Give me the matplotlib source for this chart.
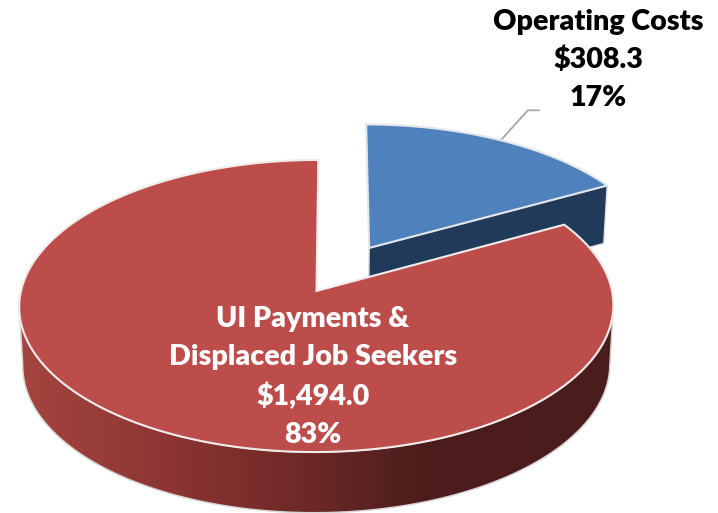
import numpy as np
import matplotlib
matplotlib.use('Agg')
import matplotlib.pyplot as plt
from matplotlib.colors import LinearSegmentedColormap
from matplotlib.patches import Polygon

plt.rcParams['font.family'] = ['Lato', 'DejaVu Sans']

# values, clockwise from 12 o'clock
names = ['Operating Costs', 'UI Payments &\nDisplaced Job Seekers']
amounts = [308.3, 1494.0]
percents = [17, 83]
explode = 0.357

W, H = 718, 513
fig = plt.figure(figsize=(W / 100, H / 100), dpi=100)
ax = fig.add_axes([0, 0, 1, 1])
ax.set_xlim(0, W)
ax.set_ylim(H, 0)
ax.axis('off')


# disc (u, v) -> picture, with some perspective (k) and a small tilt
def top_xy(u, v, k=0.1027):
    return 316.5 + (295.5 * u + 2 * v) / (1 + k * v), 291 - 144.5 * v / (1 + k * v)


def low_xy(u, v, k=0.1027):
    return 316.5 + (292 * u + 2 * v) / (1 + k * v), 350 - 146 * v / (1 + k * v)


def arc(a0, a1, off=(0, 0), n=200):
    t = np.radians(np.linspace(a0, a1, n))
    return off[0] + np.cos(t), off[1] + np.sin(t)


fracs = [p / 100 for p in percents]
blue_end = 90 - 360 * fracs[0]
bis = np.radians((90 + blue_end) / 2)
off = (explode * np.cos(bis), explode * np.sin(bis))
edge_u, edge_v = np.cos(np.radians(blue_end)), np.sin(np.radians(blue_end))

# blue slice: side first, then top
a = top_xy(off[0], off[1])
b = top_xy(off[0] + edge_u, off[1] + edge_v)
c = low_xy(off[0] + edge_u, off[1] + edge_v)
d = low_xy(off[0], off[1])
ax.add_patch(Polygon([a, b, c, d], fc='#213A59', ec='#DADDE1', lw=1.0, zorder=2))

u, v = arc(90, blue_end, off)
xs, ys = top_xy(u, v)
pts = [a] + list(zip(xs, ys))
ax.add_patch(Polygon(pts, fc='#4F81BD', ec='#E2E5E9', lw=1.5, joinstyle='miter', zorder=3))

# red slice side with gradient
u1, v1 = arc(186, 354)
x1, y1 = top_xy(u1, v1)
x2, y2 = low_xy(u1[::-1], v1[::-1])
side = Polygon(list(zip(x1, y1)) + list(zip(x2, y2)), fc='none', ec='#D6D6D6', lw=1.1, zorder=4)
ax.add_patch(side)
cmap = LinearSegmentedColormap.from_list('side', [(0, '#A5453F'), (0.26, '#8C3533'),
                                                  (0.5, '#6B2826'), (0.68, '#4C1D1C'), (1, '#4A1C1B')])
im = ax.imshow(np.linspace(0, 1, 400).reshape(1, -1), cmap=cmap, aspect='auto',
               extent=[15, 615, H + 5, 300], zorder=3.5)
im.set_clip_path(side)
ax.set_xlim(0, W)
ax.set_ylim(H, 0)

# red slice top
u, v = arc(blue_end, 90 - 360, n=500)
xs, ys = top_xy(u, v)
pts = [top_xy(0, 0)] + list(zip(xs, ys))
ax.add_patch(Polygon(pts, fc='#BC4D4B', ec='#F0EBEB', lw=1.5, joinstyle='miter', zorder=5))

# leader line
lx, ly = top_xy(off[0] + np.cos(bis), off[1] + np.sin(bis))
ax.plot([lx, lx + 27, lx + 38], [ly, ly - 30, ly - 30], color='#A6A6A6', lw=1.3, zorder=2)

ax.text(598, 60, f'{names[0]}\n${amounts[0]:,.1f}\n{percents[0]}%', color='black', fontsize=20.6,
        fontweight='heavy', ha='center', va='center', linespacing=1.56, zorder=6)
ax.text(313, 377, f'{names[1]}\n${amounts[1]:,.1f}\n{percents[1]}%', color='white', fontsize=20.6,
        fontweight='heavy', ha='center', va='center', linespacing=1.56, zorder=6)

fig.savefig('out.png', dpi=100)
